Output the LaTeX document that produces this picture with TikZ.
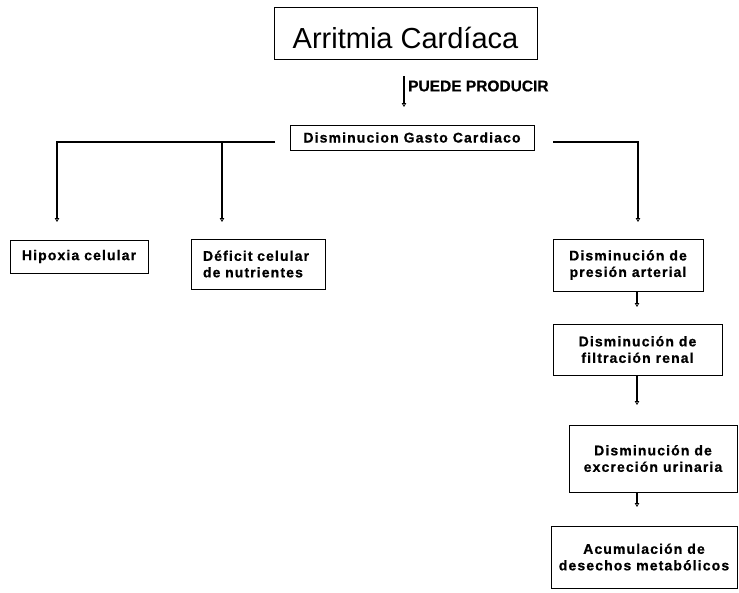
\documentclass[tikz,border=0pt]{standalone}
\usepackage{fontspec}
\setmainfont{Liberation Sans}
\newfontfamily\boxfont[LetterSpace=8, BoldFeatures={FakeBold=0.8}]{Liberation Sans}
\newfontfamily\headfont[BoldFeatures={FakeBold=0.6}]{Liberation Sans}
\usetikzlibrary{arrows.meta}
\tikzset{
  box/.style={draw, line width=0.8pt, inner sep=0pt, align=center,
    font=\boxfont\bfseries\fontsize{14}{16.5}\selectfont},
  wire/.style={line width=1.6pt},
  link/.style={wire, -{Triangle[open, length=4pt, width=4.5pt, line width=0.8pt]}}
}
\begin{document}
\begin{tikzpicture}[x=1pt, y=-1pt]
  \useasboundingbox (0,0) rectangle (739,592);

  % title and first effect
  \node[draw, line width=0.8pt, inner sep=0pt, minimum width=263pt, minimum height=52pt,
        text height=30pt, text depth=0pt, font=\fontsize{29}{33}\selectfont]
        (arr) at (405.5,33) {Arritmia Cardíaca};
  \node[box, minimum width=244pt, minimum height=25pt] (gasto) at (412,137.5)
        {Disminucion Gasto Cardiaco};
  \coordinate (pa) at (404,76);
  \coordinate (pb) at (404,107);
  \draw[link] (pa) -- (pb);
  \node[anchor=west, inner sep=0pt, font=\headfont\bfseries\fontsize{15.5}{18}\selectfont]
        (puede) at (408,86) {PUEDE PRODUCIR};

  % consequences
  \node[box, minimum width=138pt, minimum height=33pt] (hip) at (79,256.5) {Hipoxia celular};
  \node[box, align=left, inner xsep=12pt, text width=110pt, minimum height=50pt]
        (def) at (258,264) {Déficit celular\\de nutrientes};
  \node[box, minimum width=150pt, minimum height=52pt] (pres) at (628,265)
        {Disminución de\\presión arterial};
  \node[box, minimum width=169pt, minimum height=51pt] (filt) at (637.5,349.5)
        {Disminución de\\filtración renal};
  \node[box, minimum width=168pt, minimum height=67pt] (exc) at (653,458.5)
        {Disminución de\\excreción urinaria};
  \node[box, minimum width=186pt, minimum height=62pt] (acu) at (644,557)
        {Acumulación de\\desechos metabólicos};

  % branching connectors
  \coordinate (gl) at (275,142);
  \coordinate (gr) at (553,142);
  \coordinate (jm) at (222,142);
  \coordinate (hipin) at (57,222);
  \coordinate (defin) at (222,222);
  \coordinate (presin) at (638,222);
  \draw[link] (gl) -| (hipin);
  \draw[link] (jm) -- (defin);
  \draw[link] (gr) -| (presin);

  % chain on the right
  \coordinate (filtin) at (637,307);
  \coordinate (excin) at (637,405);
  \coordinate (acuin) at (637,507);
  \draw[link] (pres.south -| filtin) -- (filtin);
  \draw[link] (filt.south -| excin) -- (excin);
  \draw[link] (exc.south -| acuin) -- (acuin);
\end{tikzpicture}
\end{document}
